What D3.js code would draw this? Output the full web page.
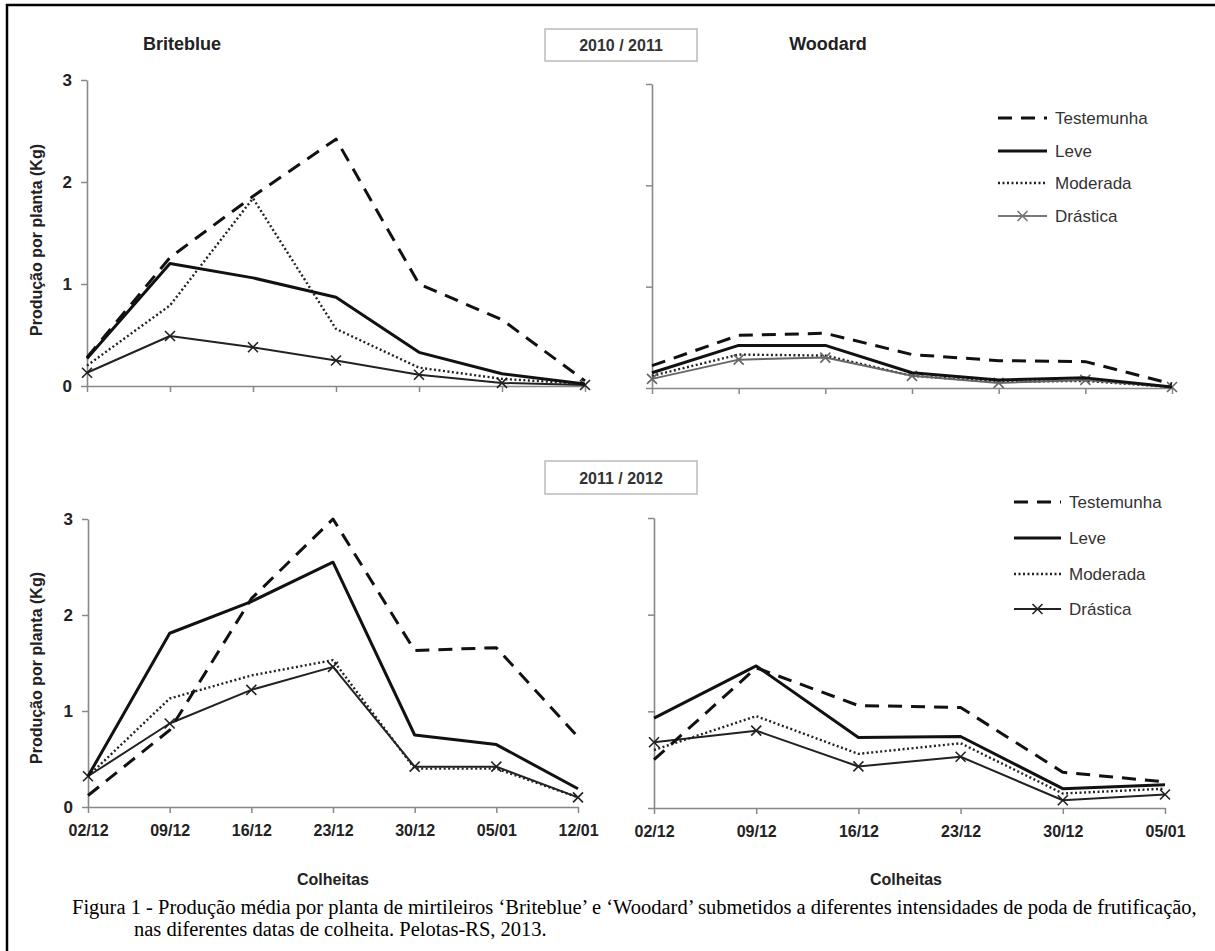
<!DOCTYPE html>
<html><head><meta charset="utf-8">
<script src="https://cdn.jsdelivr.net/npm/d3@7"></script>
<style>body{margin:0;background:#fff}svg{display:block}</style>
</head><body>
<svg id="c" width="1215" height="951"></svg>
<script>
// ---- data ----
const dates7 = ["02/12","09/12","16/12","23/12","30/12","05/01","12/01"];
const dates6 = ["02/12","09/12","16/12","23/12","30/12","05/01"];
const treatments = ["Testemunha","Leve","Moderada","Drástica"];
const yTicks = [0,1,2,3];

// Briteblue 2010/2011
const bb1_testemunha = [0.28,1.26,1.86,2.42,1.00,0.65,0.05];
const bb1_leve       = [0.27,1.20,1.06,0.87,0.33,0.12,0.02];
const bb1_moderada   = [0.20,0.79,1.84,0.56,0.18,0.07,0.02];
const bb1_drastica   = [0.13,0.49,0.38,0.25,0.11,0.03,0.01];
// Woodard 2010/2011
const wd1_testemunha = [0.22,0.52,0.54,0.33,0.27,0.26,0.04];
const wd1_leve       = [0.15,0.42,0.42,0.15,0.08,0.10,0.01];
const wd1_moderada   = [0.12,0.33,0.32,0.12,0.06,0.07,0.01];
const wd1_drastica   = [0.09,0.28,0.30,0.12,0.05,0.08,0.01];
// Briteblue 2011/2012
const bb2_testemunha = [0.12,0.80,2.17,3.00,1.63,1.66,0.73];
const bb2_leve       = [0.32,1.81,2.14,2.55,0.75,0.65,0.19];
const bb2_moderada   = [0.32,1.13,1.37,1.53,0.40,0.40,0.10];
const bb2_drastica   = [0.32,0.87,1.22,1.46,0.42,0.42,0.10];
// Woodard 2011/2012
const wd2_testemunha = [0.50,1.45,1.06,1.04,0.37,0.27];
const wd2_leve       = [0.93,1.47,0.73,0.74,0.20,0.24];
const wd2_moderada   = [0.60,0.95,0.56,0.67,0.15,0.20];
const wd2_drastica   = [0.68,0.80,0.43,0.53,0.08,0.14];

const svg = d3.select("#c");
const FONT = "Liberation Sans, Arial, sans-serif";

// outer frame (top & left)
svg.append("path").attr("d","M7,951 L7,5 L1215,5").attr("fill","none").attr("stroke","#000").attr("stroke-width",2.5);

const styles = {
  "Testemunha": {stroke:"#111", w:3, dash:"14,9"},
  "Leve": {stroke:"#111", w:3, dash:null},
  "Moderada": {stroke:"#222", w:2.4, dash:"2,2.5"},
  "Drástica": {stroke:"#222", w:2, dash:null}
};

function panel(cfg){
  const x = d3.scalePoint().domain(cfg.dates).range(cfg.xr);
  const y = d3.scaleLinear().domain([0,3]).range(cfg.yr);
  const g = svg.append("g");
  const ya = g.append("g").attr("transform",`translate(${cfg.xr[0]},0)`)
    .call(d3.axisLeft(y).tickValues(yTicks).tickSize(6).tickSizeOuter(0).tickPadding(9)
      .tickFormat(cfg.yLabels ? d3.format("d") : ""));
  ya.select(".domain").attr("stroke","#888").attr("stroke-width",1.6);
  ya.selectAll(".tick line").attr("stroke","#888").attr("stroke-width",1.5);
  ya.selectAll("text").attr("font-family",FONT).attr("font-size",17).attr("font-weight","bold").attr("fill","#222");
  const xa = g.append("g").attr("transform",`translate(0,${cfg.yr[0]})`)
    .call(d3.axisBottom(x).tickSize(6).tickSizeOuter(0).tickPadding(12)
      .tickFormat(cfg.xLabels ? (d=>d) : ""));
  xa.select(".domain").attr("stroke","#888").attr("stroke-width",1.6);
  xa.selectAll(".tick line").attr("stroke","#888").attr("stroke-width",1.5);
  xa.selectAll("text").attr("font-family",FONT).attr("font-size",16).attr("font-weight","bold").attr("fill","#222");

  const line = d3.line().x((d,i)=>x(cfg.dates[i])).y(d=>y(d));
  const order = ["Moderada","Drástica","Leve","Testemunha"];
  order.forEach(t=>{
    const s = styles[t];
    const col = (t==="Drástica" && cfg.drasticaColor) ? cfg.drasticaColor : s.stroke;
    g.append("path").datum(cfg.series[t]).attr("d",line)
      .attr("fill","none").attr("stroke",col).attr("stroke-width",s.w)
      .attr("stroke-dasharray",s.dash).attr("stroke-linejoin","round");
    if(t==="Drástica"){
      g.selectAll(null).data(cfg.series[t]).enter().append("path")
        .attr("d",(d,i)=>{const cx=x(cfg.dates[i]), cy=y(d), r=5;
          return `M${cx-r},${cy-r}L${cx+r},${cy+r}M${cx-r},${cy+r}L${cx+r},${cy-r}`;})
        .attr("stroke",col).attr("stroke-width",1.6).attr("fill","none");
    }
  });
  return {x,y};
}

panel({dates:dates7, xr:[87,585], yr:[386,80], yLabels:true, xLabels:false,
  series:{"Testemunha":bb1_testemunha,"Leve":bb1_leve,"Moderada":bb1_moderada,"Drástica":bb1_drastica}});
panel({dates:dates7, xr:[652,1172], yr:[388,84], yLabels:false, xLabels:false, drasticaColor:"#666",
  series:{"Testemunha":wd1_testemunha,"Leve":wd1_leve,"Moderada":wd1_moderada,"Drástica":wd1_drastica}});
panel({dates:dates7, xr:[88,578], yr:[807,519], yLabels:true, xLabels:true,
  series:{"Testemunha":bb2_testemunha,"Leve":bb2_leve,"Moderada":bb2_moderada,"Drástica":bb2_drastica}});
panel({dates:dates6, xr:[654,1165], yr:[808,518], yLabels:false, xLabels:true,
  series:{"Testemunha":wd2_testemunha,"Leve":wd2_leve,"Moderada":wd2_moderada,"Drástica":wd2_drastica}});

function legend(x0, x1, tx, ys, drastCol){
  treatments.forEach((t,i)=>{
    const s = styles[t], yy = ys[i];
    const col = (t==="Drástica" && drastCol) ? drastCol : s.stroke;
    svg.append("line").attr("x1",x0).attr("x2",x1).attr("y1",yy).attr("y2",yy)
      .attr("stroke",col).attr("stroke-width",s.w).attr("stroke-dasharray",s.dash);
    if(t==="Drástica"){
      const cx=(x0+x1)/2, r=5;
      svg.append("path").attr("d",`M${cx-r},${yy-r}L${cx+r},${yy+r}M${cx-r},${yy+r}L${cx+r},${yy-r}`)
        .attr("stroke",col).attr("stroke-width",1.6);
    }
    svg.append("text").attr("x",tx).attr("y",yy).attr("dy","0.36em").text(t)
      .attr("font-family",FONT).attr("font-size",17).attr("fill","#333");
  });
}
legend(998,1047,1055,[118,151,183,216],"#777");
legend(1014,1061,1069,[502,538,574,609],null);

function txt(x,y,s,size,weight,anchor,fill){
  return svg.append("text").attr("x",x).attr("y",y).text(s).attr("font-family",FONT)
    .attr("font-size",size).attr("font-weight",weight||"normal").attr("text-anchor",anchor||"middle").attr("fill",fill||"#222");
}
txt(182,50,"Briteblue",18,"bold");
txt(828,50,"Woodard",18,"bold");
svg.append("rect").attr("x",545).attr("y",29).attr("width",152).attr("height",32).attr("fill","#fff").attr("stroke","#bbb").attr("stroke-width",1.5);
txt(621,51,"2010 / 2011",16,"bold","middle","#333");
svg.append("rect").attr("x",545).attr("y",461).attr("width",152).attr("height",33).attr("fill","#fff").attr("stroke","#bbb").attr("stroke-width",1.5);
txt(621,484,"2011 / 2012",16,"bold","middle","#333");

[[36,240],[36,668]].forEach(([x,y])=>{
  svg.append("text").attr("transform",`translate(${x},${y}) rotate(-90)`).attr("text-anchor","middle")
    .attr("dy","0.36em").text("Produção por planta (Kg)").attr("font-family",FONT).attr("font-size",16)
    .attr("font-weight","bold").attr("fill","#222");
});
txt(333,885,"Colheitas",16,"bold");
txt(906,885,"Colheitas",16,"bold");

const SERIF = "Liberation Serif, Times New Roman, serif";
const cap1 = svg.append("text").attr("x",72).attr("y",914).attr("font-family",SERIF).attr("font-size",16).attr("fill","#000")
  .text("Figura 1 - Produção média por planta de mirtileiros ‘Briteblue’ e ‘Woodard’ submetidos a diferentes intensidades de poda de frutificação,");
const w1 = cap1.node().getComputedTextLength();
const fs = 16 * (1197-72) / w1;
cap1.attr("font-size",fs);
svg.append("text").attr("x",134).attr("y",936).attr("font-family",SERIF).attr("font-size",fs).attr("fill","#000")
  .text("nas diferentes datas de colheita. Pelotas-RS, 2013.");
</script>
</body></html>
